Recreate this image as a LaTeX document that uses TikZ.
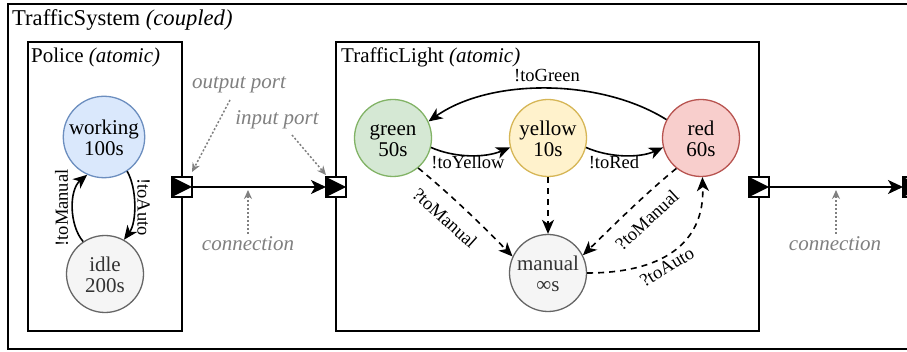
\documentclass[tikz,border=0pt]{standalone}
\usepackage{fontspec}
\setmainfont{Liberation Serif}
\usetikzlibrary{arrows.meta}
\definecolor{bluefill}{HTML}{DAE8FC}
\definecolor{bluestroke}{HTML}{6C8EBF}
\definecolor{greenfill}{HTML}{D5E8D4}
\definecolor{greenstroke}{HTML}{82B366}
\definecolor{yellowfill}{HTML}{FFF2CC}
\definecolor{yellowstroke}{HTML}{D6B656}
\definecolor{redfill}{HTML}{F8CECC}
\definecolor{redstroke}{HTML}{B85450}
\definecolor{grayfill}{HTML}{F5F5F5}
\definecolor{graystroke}{HTML}{666666}
\definecolor{graytext}{HTML}{333333}
\definecolor{notegray}{HTML}{808080}
\newcommand\twol[2]{\rule{0pt}{19pt}#1\\#2\rule[-2pt]{0pt}{2pt}}
\tikzset{
  state/.style={circle, draw, line width=1.3pt, minimum size=77pt, inner sep=0pt, align=center, font=\fontsize{21}{21}\selectfont},
  box/.style={draw, line width=1.6pt},
  port/.style={fill=white, minimum size=20pt, inner sep=0pt, outer sep=0pt},
  portline/.style={draw, line width=1.4pt},
  trans/.style={line width=1.6pt, -{Stealth[length=14pt,width=12pt,inset=4pt]}},
  dtrans/.style={trans, dash pattern=on 6pt off 5pt},
  conn/.style={line width=1.6pt, -{Stealth[length=15pt,width=14pt,inset=4pt]}},
  elabel/.style={font=\fontsize{18.5}{18.5}\selectfont, inner sep=0pt},
  note/.style={text=notegray, font=\fontsize{21}{21}\selectfont\itshape, inner sep=0pt},
  pointer/.style={draw=notegray, line width=1.5pt, dash pattern=on 2pt off 2pt, -{Stealth[length=9pt,width=8pt]}},
  title/.style={font=\fontsize{21}{21}\selectfont, anchor=base west, inner sep=0pt},
}
\begin{document}
\begin{tikzpicture}[x=1pt,y=-1pt]
\clip (0,0) rectangle (907,352);
\fill[white] (0,0) rectangle (907,352);
% containers
\draw[box] (8,4) rectangle (960,349);
\node[title, font=\fontsize{22.6}{22.6}\selectfont] (tstitle) at (12,26) {TrafficSystem \textit{(coupled)}};
\draw[box] (28,42) rectangle (182,331);
\node[title] (ptitle) at (31,63) {Police \textit{(atomic)}};
\draw[box] (336,42) rectangle (759,331);
\node[title] (tltitle) at (341,63) {TrafficLight \textit{(atomic)}};
% police states
\node[state, draw=bluestroke, fill=bluefill] (work) at (104,137) {\twol{working}{100s}};
\node[state, draw=graystroke, fill=grayfill, text=graytext] (idle) at (105,274) {\twol{idle}{200s}};
\draw[trans] (work.-56) .. controls (137,188) and (137,222) .. (idle.61);
\node[elabel, rotate=-90] (lauto) at (143.5,207) {!toAuto};
\draw[trans] (idle.124) .. controls (69,225) and (69,190) .. (work.246);
\node[elabel, rotate=90] (lman) at (61.5,208) {!toManual};
% traffic light states
\node[state, draw=greenstroke, fill=greenfill] (green) at (393,138) {\twol{green}{50s}};
\node[state, draw=yellowstroke, fill=yellowfill] (yellow) at (548,138) {\twol{yellow}{10s}};
\node[state, draw=redstroke, fill=redfill] (red) at (701,138) {\twol{red}{60s}};
\node[state, draw=graystroke, fill=grayfill, text=graytext] (man) at (548,273) {\twol{manual}{∞s}};
\draw[trans] (green.-14) .. controls (455,158) and (485,158) .. (yellow.194);
\node[elabel, anchor=base] (lyel) at (468,169) {!toYellow};
\draw[trans] (yellow.-14) .. controls (610,158) and (640,158) .. (red.194);
\node[elabel, anchor=base] (lred) at (614,169) {!toRed};
\draw[trans] (red.152) .. controls (600,78) and (490,78) .. (green.25);
\node[elabel, anchor=base] (lgreen) at (547,82) {!toGreen};
\draw[dtrans] (green.-50) .. controls (451,195) and (482,225) .. (man.155);
\node[elabel, rotate=-42] (lgm) at (445,218) {?toManual};
\draw[dtrans] (red.231) .. controls (645,194) and (615,224) .. (man.27);
\node[elabel, rotate=43] (lrm) at (647,220) {?toManual};
\draw[dtrans] (yellow.south) -- (man.north);
\draw[dtrans] (man.east) .. controls (660,273) and (705,245) .. (red.-88);
\node[elabel, rotate=31] (lra) at (667,267) {?toAuto};
% ports and connections
\node[port] (pout) at (182,187) {};
\node[port] (tin) at (336,187) {};
\node[port] (tout) at (759,187) {};
\node[port] (ext) at (913,187) {};
\foreach \p in {pout,tin,tout,ext}{
  \fill (\p.north west) -- (\p.east) -- (\p.south west) -- cycle;
  \draw[portline] (\p.north west) rectangle (\p.south east);
}
\draw[conn] (pout.east) -- (tin.west);
\draw[conn] (tout.east) -- (ext.west);
% notes
\node[note, anchor=base] (nout) at (239,89) {output port};
\node[note, anchor=base] (nin) at (277,125) {input port};
\node[note, anchor=base] (nc1) at (248,251) {connection};
\node[note, anchor=base] (nc2) at (835,251) {connection};
\coordinate (sout) at (230,100);
\coordinate (sin) at (292,135);
\coordinate (sc1) at (248,234);
\coordinate (sc2) at (836,234);
\coordinate (ec1) at (248,190);
\coordinate (ec2) at (836,190);
\draw[pointer] (sout) -- ([yshift=5pt]pout.north east);
\draw[pointer] (sin) -- ([yshift=2pt]tin.north west);
\draw[pointer] (sc1) -- (ec1);
\draw[pointer] (sc2) -- (ec2);
\end{tikzpicture}
\end{document}
